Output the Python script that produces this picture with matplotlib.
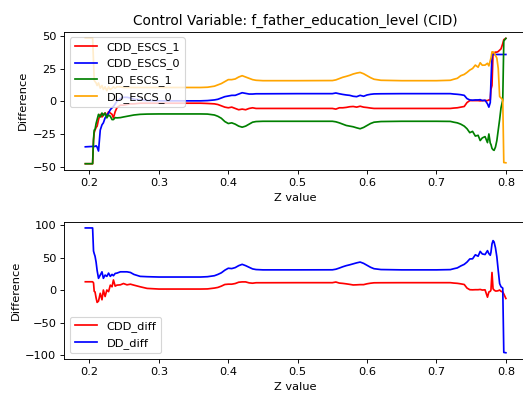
import matplotlib
matplotlib.use("Agg")
import matplotlib.pyplot as plt
from matplotlib.ticker import MultipleLocator

title = "Control Variable: f_father_education_level (CID)"

z_value = [0.194, 0.2045, 0.2058, 0.2068, 0.208, 0.2095, 0.211, 0.213, 0.2155, 0.218,
           0.220, 0.2225, 0.225, 0.2275, 0.230, 0.2325, 0.2345, 0.237, 0.2395, 0.2445,
           0.249, 0.254, 0.259, 0.264, 0.273, 0.283, 0.30, 0.32, 0.34, 0.36,
           0.37, 0.38, 0.385, 0.39, 0.395, 0.40, 0.405, 0.41, 0.415, 0.42,
           0.425, 0.43, 0.435, 0.44, 0.45, 0.50, 0.55, 0.555, 0.56, 0.565,
           0.57, 0.575, 0.58, 0.585, 0.59, 0.595, 0.60, 0.605, 0.61, 0.62,
           0.65, 0.70, 0.72, 0.725, 0.73, 0.735, 0.74, 0.744, 0.748, 0.752,
           0.756, 0.760, 0.763, 0.766, 0.770, 0.7735, 0.7755, 0.7775, 0.7785, 0.780,
           0.7815, 0.783, 0.785, 0.787, 0.789, 0.791, 0.793, 0.7955, 0.797, 0.800]

cdd_escs_1 = [-47.7, -47.7, -30, -24, -22, -20, -19, -14, -10, -12,
              -10, -9, -11, -8, -9, -10, -12.7, -8, -5, -3,
              -3, -2.5, -2, -2, -1.5, -1.5, -1.5, -1.5, -1.5, -1.5,
              -1.7, -2, -2.5, -3.5, -4.5, -5, -4.5, -5.5, -6.5, -6,
              -6.5, -5.5, -5, -5.5, -5.5, -5.5, -5.5, -6, -5, -5,
              -4.7, -4.2, -4, -4.5, -3.8, -4.5, -4.8, -5.2, -5.5, -5.5,
              -5.5, -5.5, -5.5, -5.2, -5, -4.5, -4, -1, 0.5, 0.5,
              0.5, 0.5, 0.3, 0.5, 0.5, 0.5, 1, 1, 9, 12,
              36.4, 37, 37.5, 37.5, 38, 39, 40, 44, 47, 48]

cdd_escs_0 = [-34.8, -34.5, -34.5, -34.5, -34.5, -34, -35, -38, -22, -18,
              -16.5, -12.7, -11, -9, -6.4, -5, -4, -2, 0, 2,
              3, 3, 2.5, 1.5, 1, 0.5, 0.3, 0.3, 0.3, 0.3,
              0.5, 1, 1.5, 2.5, 3.5, 4, 4.5, 4.5, 5.5, 6.5,
              6, 5.5, 5.5, 5.7, 5.7, 5.8, 5.8, 6.3, 5.7, 5.2,
              4.8, 4.5, 3.8, 3.5, 4.5, 3.8, 4.8, 5.3, 5.6, 5.7,
              5.8, 5.8, 5.8, 5.5, 5.3, 5, 4.5, 2, 1, 0.8,
              1, 1, 1.2, 0.5, 0.8, -2, -4.5, -1, 15, 35,
              35.7, 35.7, 35.7, 35.7, 35.7, 35.7, 35.7, 35.7, 35.7, 35.7]

dd_escs_1 = [-47.7, -47.7, -29, -22, -21.6, -17, -14, -10, -12, -9,
             -11, -9, -12.7, -10.5, -11.5, -14, -14, -12.5, -12.7, -12.5,
             -12, -11.5, -11, -10.5, -10, -9.8, -9.7, -9.7, -9.7, -9.7,
             -9.8, -10.5, -11.5, -13, -15.5, -17, -16.5, -17.5, -19, -19.8,
             -19, -17.5, -16, -15.5, -15.3, -15.3, -15.3, -15.7, -16.5, -17.5,
             -18.5, -19, -19.5, -20.3, -21, -20, -18.5, -17, -16, -15.5,
             -15.3, -15.3, -15.4, -16, -16.5, -17.5, -19, -21, -24, -23,
             -26.6, -26, -30, -28, -27, -31.6, -25, -32, -33, -36,
             -37, -37.5, -35, -30, -22, -14, -5, 1, 46, 48]

dd_escs_0 = [48.3, 48.3, 30, 16, 15, 14, 12, 14, 10, 12,
             9, 11, 8, 11, 9, 10, 11, 10, 11, 11,
             10.5, 10.5, 10.5, 10.5, 10.5, 10.5, 10.5, 10.5, 10.5, 10.5,
             10.7, 11.5, 12.5, 13.5, 15, 16.5, 16.5, 17, 18.5, 19.5,
             18.5, 17.5, 16.5, 16, 15.7, 15.7, 15.8, 16.3, 17.3, 18.3,
             19, 19.8, 20.8, 21.5, 22, 21, 19.5, 18, 16.8, 16,
             15.7, 15.7, 16, 16.8, 17.5, 19.5, 20.5, 22, 23.8, 25,
             27.6, 26, 29.4, 27.5, 27.6, 29, 27, 31, 33, 37.7,
             37.7, 37, 35, 33, 25, 3.6, 2.5, 1, -46.8, -47]

cdd_diff = [12.7, 12.7, 11, -2, -3, -12, -19, -17, -5, -15,
            0, -10, 0, -2.5, 7.5, 5, 15.5, 6, 7.5, 8,
            10, 8, 9, 7.5, 5, 2.5, 1.5, 1.5, 1.5, 1.5,
            1.7, 3, 4, 6, 8.5, 9, 9, 10, 12, 12.5,
            12.5, 11, 10.5, 11.2, 11.2, 11.3, 11.3, 12.3, 10.7, 10.2,
            9.5, 8.7, 7.8, 8, 8.3, 8.3, 9.6, 10.5, 11.1, 11.2,
            11.3, 11.3, 11.3, 10.7, 10.3, 9.5, 8.5, 3, 0.5, 0.3,
            0.5, 0.5, 0.9, 0, 0.3, -11, -3, -2, 0, 27,
            2, 0, -1.5, -1.5, -1, 0, -2, -3, -6, -13]

dd_diff = [95.5, 95.5, 60, 56, 52, 43, 30, 18, 23, 28,
           18, 23, 21, 26, 21, 24, 22, 25.5, 26, 28,
           28, 28, 27, 24, 21, 20.5, 20, 20, 20, 20,
           20.5, 22, 24, 26.5, 30.5, 33.5, 33, 34.5, 37.5, 39.5,
           37.5, 35, 32.5, 31.5, 31, 31, 31.1, 32, 33.8, 35.8,
           37.5, 38.8, 40.3, 41.8, 43, 41, 38, 35, 32.8, 31.5,
           31, 31, 31.4, 32.8, 34, 37, 39.5, 43, 47.8, 48,
           54.2, 52, 59.4, 55.5, 54.6, 60.6, 56, 53.5, 58, 71,
           76, 74, 65, 51, 30, 10, 5, 3, -96, -96.5]

fig = plt.figure(figsize=(523 / 82, 393 / 82), dpi=82)
ax1 = fig.add_axes([64.3 / 523, (393 - 170) / 393, 462.6 / 523, 138.3 / 393])
ax2 = fig.add_axes([64.3 / 523, (393 - 359) / 393, 462.6 / 523, 137.3 / 393])

ax1.plot(z_value, cdd_escs_1, color="red", label="CDD_ESCS_1")
ax1.plot(z_value, cdd_escs_0, color="blue", label="CDD_ESCS_0")
ax1.plot(z_value, dd_escs_1, color="green", label="DD_ESCS_1")
ax1.plot(z_value, dd_escs_0, color="orange", label="DD_ESCS_0")
ax1.set_title(title)
ax1.set_xlabel("Z value")
ax1.set_ylabel("Difference")
ax1.yaxis.set_major_locator(MultipleLocator(25))
ax1.legend(loc="upper left")

ax2.plot(z_value, cdd_diff, color="red", label="CDD_diff")
ax2.plot(z_value, dd_diff, color="blue", label="DD_diff")
ax2.set_xlabel("Z value")
ax2.set_ylabel("Difference")
ax2.legend(loc="lower left")

fig.savefig("out.png", dpi=82)
